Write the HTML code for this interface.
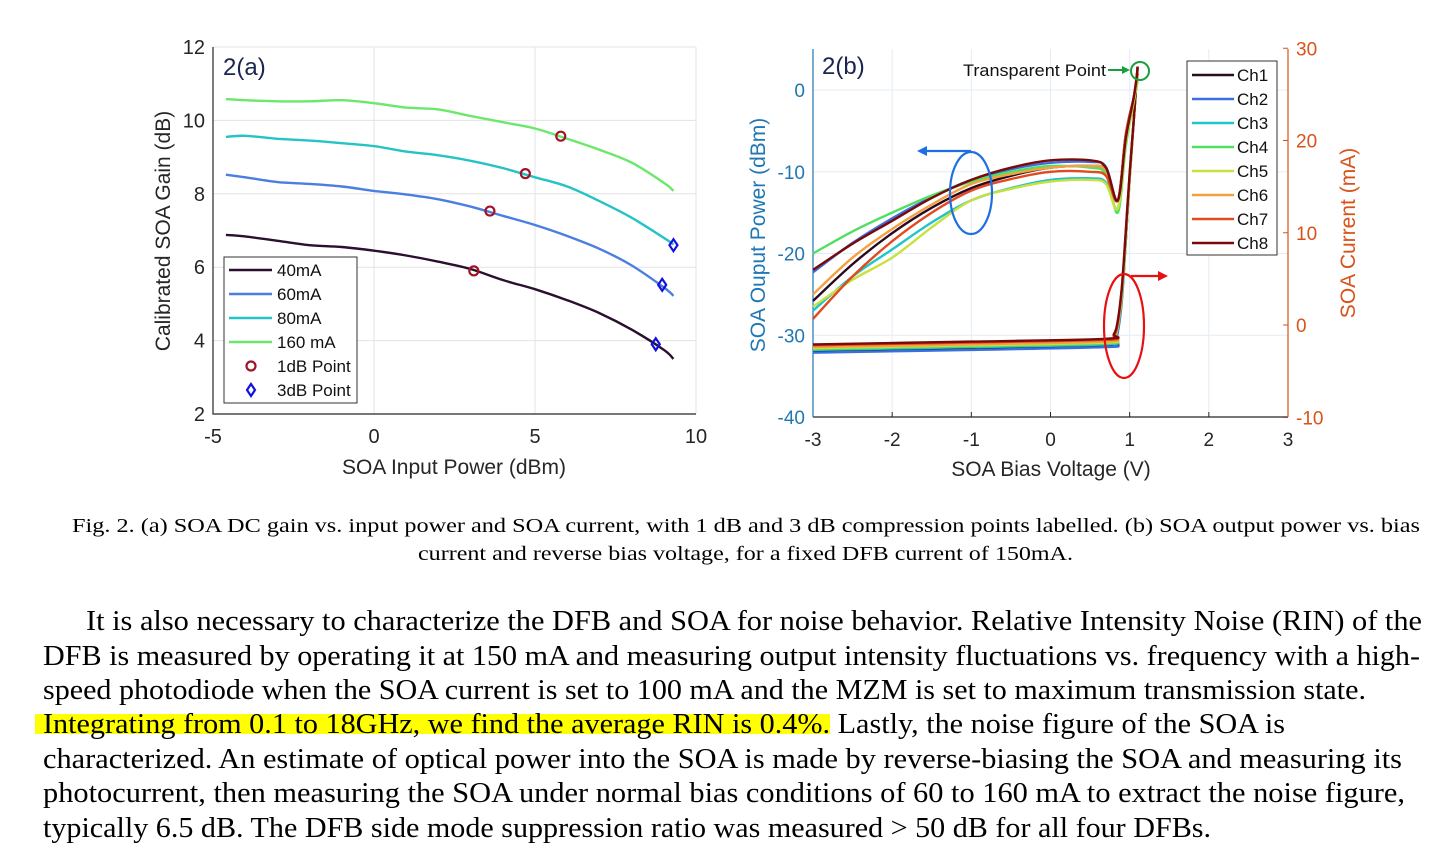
<!DOCTYPE html>
<html><head><meta charset="utf-8"><style>
body{margin:0;background:#fff;width:1456px;height:864px;overflow:hidden}
svg{position:absolute;left:0;top:0}
text{font-family:"Liberation Sans",sans-serif}
.serif{font-family:"Liberation Serif",serif}
</style></head><body>
<svg id="s" width="1456" height="864">
<g id="ga"></g>
<g id="gb"></g>
<g>
<text class="serif" x="72" y="532" font-size="20" textLength="1348" lengthAdjust="spacingAndGlyphs">Fig. 2. (a) SOA DC gain vs. input power and SOA current, with 1 dB and 3 dB compression points labelled.  (b) SOA output power vs. bias</text>
<text class="serif" x="418" y="560" font-size="20" textLength="655" lengthAdjust="spacingAndGlyphs">current and reverse bias voltage, for a fixed DFB current of 150mA.</text>
</g>
<rect x="35" y="714" width="795" height="20" fill="#ffff00"/>
<g font-size="28">
<text class="serif" x="86" y="630" textLength="1336" lengthAdjust="spacingAndGlyphs">It is also necessary to characterize the DFB and SOA for noise behavior.  Relative Intensity Noise (RIN) of the</text>
<text class="serif" x="43" y="665" textLength="1377" lengthAdjust="spacingAndGlyphs">DFB is measured by operating it at 150 mA and measuring output intensity fluctuations vs. frequency with a high-</text>
<text class="serif" x="43" y="699" textLength="1323" lengthAdjust="spacingAndGlyphs">speed photodiode when the SOA current is set to 100 mA and the MZM is set to maximum transmission state.</text>
<text class="serif" x="43" y="733" textLength="1242" lengthAdjust="spacingAndGlyphs">Integrating from 0.1 to 18GHz, we find the average RIN is 0.4%. Lastly, the noise figure of the SOA is</text>
<text class="serif" x="43" y="768" textLength="1359" lengthAdjust="spacingAndGlyphs">characterized.  An estimate of optical power into the SOA is made by reverse-biasing the SOA and measuring its</text>
<text class="serif" x="43" y="802" textLength="1362" lengthAdjust="spacingAndGlyphs">photocurrent, then measuring the SOA under normal bias conditions of 60 to 160 mA to extract the noise figure,</text>
<text class="serif" x="43" y="837" textLength="1168" lengthAdjust="spacingAndGlyphs">typically 6.5 dB. The DFB side mode suppression ratio was measured &gt; 50 dB for all four DFBs.</text>
</g>
</svg>
<script>
// ---- Chart A data ----
const aX = [-4.6,-4,-3,-2,-1,0,1,2,3,4,5,6,7,8,9,9.3];
const aNames = ['40mA','60mA','80mA','160 mA'];
const aColors = ['#2a0f2e','#4a7ee0','#25c3c6','#6be86b'];
const a40 = [6.88,6.84,6.72,6.6,6.55,6.45,6.32,6.15,5.95,5.65,5.4,5.1,4.75,4.3,3.75,3.5];
const a60 = [8.52,8.45,8.32,8.27,8.2,8.08,7.98,7.85,7.65,7.4,7.15,6.85,6.5,6.05,5.45,5.22];
const a80 = [9.55,9.58,9.5,9.45,9.38,9.3,9.15,9.05,8.9,8.7,8.45,8.2,7.8,7.35,6.8,6.62];
const a160 = [10.58,10.55,10.52,10.52,10.55,10.47,10.35,10.3,10.12,9.95,9.78,9.5,9.2,8.85,8.3,8.08];
const p1dbX = [3.1,3.6,4.7,5.8];
const p1dbY = [5.9,7.53,8.55,9.57];
const p3dbX = [8.75,8.95,9.3];
const p3dbY = [3.9,5.52,6.6];
const aXTicks = [-5,0,5,10];
const aYTicks = [2,4,6,8,10,12];
// ---- Chart B data ----
const bX = [-3,-2.5,-2,-1.5,-1,-0.5,0,0.5,0.7,0.85,0.95,1.05,1.1];
const bNames = ['Ch1','Ch2','Ch3','Ch4','Ch5','Ch6','Ch7','Ch8'];
const bColors = ['#2a0a1e','#3a6fe0','#22c4c8','#50e060','#c8e040','#f5a040','#e04a20','#7a0a0a'];
const pCh1 = [-25.8,-21.3,-17.5,-14.4,-12,-10.5,-9.5,-9.3,-9.8,-13.5,-5.5,-1,2];
const pCh2 = [-22.3,-18.7,-15.7,-13.1,-11,-9.7,-8.9,-8.8,-9.4,-13.5,-5.5,-1,2];
const pCh3 = [-27,-22.8,-19.5,-16.2,-13.5,-12,-11,-10.8,-11.3,-14.5,-6.5,-1.5,1.5];
const pCh4 = [-20,-17.3,-15,-12.9,-11.2,-10,-9.3,-9.5,-10.3,-15,-7,-1.5,1];
const pCh5 = [-26.5,-23.2,-20.5,-16.8,-13.5,-12.1,-11.2,-11,-11.5,-14.5,-6.5,-1.5,1.5];
const pCh6 = [-25,-20.5,-17,-14,-11.5,-10.3,-9.5,-9.3,-9.8,-13.5,-5.5,-1,2];
const pCh7 = [-28,-22.8,-18.5,-15,-12.3,-10.9,-10,-10,-10.5,-13.5,-5.5,-1,2];
const pCh8 = [-22,-18.8,-16,-13.2,-11,-9.5,-8.6,-8.6,-9.5,-13.5,-6,-1,2.5];
const cX = [-3,-1,0.7,0.8,0.85,0.9,0.95,1.0,1.05,1.1];
const cCh1 = [-2.9,-2.6,-2.3,-1.9,-0.5,3,9,16,22,28];
const cCh2 = [-3.0,-2.7,-2.4,-2.1,-0.8,2.5,9,16,22,28];
const cCh3 = [-2.7,-2.4,-2.1,-1.7,-0.3,3,9,16,22,28];
const cCh4 = [-2.6,-2.3,-2.0,-1.6,-0.2,3,9,16,22,28];
const cCh5 = [-2.5,-2.2,-1.9,-1.5,-0.1,3.5,9.5,16,22,28];
const cCh6 = [-2.4,-2.1,-1.8,-1.4,0,3.5,9.5,16,22,28];
const cCh7 = [-2.2,-1.9,-1.6,-1.2,0.2,4,10,16.5,22,28];
const cCh8 = [-2.1,-1.8,-1.5,-1.0,0.5,4,10,16.5,22,28];
const bXTicks = [-3,-2,-1,0,1,2,3];
const bYLTicks = [-40,-30,-20,-10,0];
const bYRTicks = [-10,0,10,20,30];

const NS='http://www.w3.org/2000/svg';
function mk(parent,tag,attrs,txt){const e=document.createElementNS(NS,tag);for(const k in attrs)e.setAttribute(k,attrs[k]);if(txt!==undefined)e.textContent=txt;parent.appendChild(e);return e;}
function pts(xs,ys,fx,fy){return xs.map((x,i)=>fx(x).toFixed(1)+','+fy(ys[i]).toFixed(1)).join(' ');}
function smooth(xs,ys,fx,fy){const P=xs.map((x,i)=>[fx(x),fy(ys[i])]);let d='M'+P[0][0].toFixed(1)+','+P[0][1].toFixed(1);
for(let i=0;i<P.length-1;i++){const p0=P[Math.max(0,i-1)],p1=P[i],p2=P[i+1],p3=P[Math.min(P.length-1,i+2)];
const c1=[p1[0]+(p2[0]-p0[0])/6,p1[1]+(p2[1]-p0[1])/6],c2=[p2[0]-(p3[0]-p1[0])/6,p2[1]-(p3[1]-p1[1])/6];
d+=`C${c1[0].toFixed(1)},${c1[1].toFixed(1)} ${c2[0].toFixed(1)},${c2[1].toFixed(1)} ${p2[0].toFixed(1)},${p2[1].toFixed(1)}`;}return d;}

// ===== Chart A =====
const ga=document.getElementById('ga');
const AL=213,AR=696,AT=47,AB=414;
const ax=v=>AL+(v+5)/15*(AR-AL), ay=v=>AB-(v-2)/10*(AB-AT);
aXTicks.forEach(t=>{let l=mk(ga,'line',{x1:ax(t),x2:ax(t),y1:AT,y2:AB,stroke:'#e3e3e3'});

let tx=mk(ga,'text',{x:ax(t),y:AB+29,'font-size':20,'text-anchor':'middle',fill:'#262626'},t);
});
aYTicks.forEach(t=>{let l=mk(ga,'line',{x1:AL,x2:AR,y1:ay(t),y2:ay(t),stroke:'#e3e3e3'});

let tx=mk(ga,'text',{x:AL-8,y:ay(t)+7,'font-size':20,'text-anchor':'end',fill:'#262626'},t);
});
let axA=mk(ga,'path',{d:`M${AL},${AT}V${AB}H${AR}`,fill:'none',stroke:'#262626','stroke-width':1.2});

[a40,a60,a80,a160].forEach((s,i)=>{let p=mk(ga,'path',{d:smooth(aX,s,ax,ay),fill:'none',stroke:aColors[i],'stroke-width':2.4});
});
p1dbX.forEach((x,i)=>{let c=mk(ga,'circle',{cx:ax(x),cy:ay(p1dbY[i]),r:4.5,fill:'none',stroke:'#a0142a','stroke-width':2.2});
});
p3dbX.forEach((x,i)=>{const X=ax(x),Y=ay(p3dbY[i]);let d=mk(ga,'path',{d:`M${X},${Y-6}L${X+4},${Y}L${X},${Y+6}L${X-4},${Y}Z`,fill:'none',stroke:'#1010e0','stroke-width':2.2});
});
let tA=mk(ga,'text',{x:223,y:75,'font-size':24,fill:'#1a2550'},'2(a)');
let xtA=mk(ga,'text',{x:454,y:474,'font-size':21,'text-anchor':'middle',fill:'#262626'},'SOA Input Power (dBm)');
let ytA=mk(ga,'text',{x:0,y:0,'font-size':21,'text-anchor':'middle',fill:'#262626',transform:'translate(170,231) rotate(-90)'},'Calibrated SOA Gain (dB)');
const lgA=mk(ga,'g',{});
mk(lgA,'rect',{x:224,y:257,width:133,height:146,fill:'#fff',stroke:'#333','stroke-width':1});
aNames.forEach((n,i)=>{const y=270+i*24;mk(lgA,'line',{x1:229,x2:272,y1:y,y2:y,stroke:aColors[i],'stroke-width':2.4});
let t=mk(lgA,'text',{x:277,y:y+6,'font-size':17,fill:'#111'},n);});
mk(lgA,'circle',{cx:251,cy:366,r:4.5,fill:'none',stroke:'#a0142a','stroke-width':2.2});
let t1=mk(lgA,'text',{x:277,y:372,'font-size':17,fill:'#111'},'1dB Point');
mk(lgA,'path',{d:'M251,384L255,390L251,396L247,390Z',fill:'none',stroke:'#1010e0','stroke-width':2.2});
let t3=mk(lgA,'text',{x:277,y:396,'font-size':17,fill:'#111'},'3dB Point');

// ===== Chart B =====
const gb=document.getElementById('gb');
const BL=813,BR=1288,BT=49,BB=417;
const bx=v=>BL+(v+3)/6*(BR-BL), byl=v=>90-8.175*v, byr=v=>325-9.225*v;
const LC='#1f77b4', RC='#d95319';
bXTicks.forEach(t=>{let l=mk(gb,'line',{x1:bx(t),x2:bx(t),y1:BT,y2:BB,stroke:'#e3ecf4'});

mk(gb,'line',{x1:bx(t),x2:bx(t),y1:BB,y2:BB-5,stroke:'#262626'});
let tx=mk(gb,'text',{x:bx(t),y:BB+29,'font-size':19,'text-anchor':'middle',fill:'#262626'},t);
});
bYLTicks.forEach(t=>{let l=mk(gb,'line',{x1:BL,x2:BR,y1:byl(t),y2:byl(t),stroke:'#e3ecf4'});

let tx=mk(gb,'text',{x:BL-8,y:byl(t)+7,'font-size':19,'text-anchor':'end',fill:LC},t);
});
bYRTicks.forEach(t=>{mk(gb,'line',{x1:BR,x2:BR-5,y1:byr(t),y2:byr(t),stroke:RC});
let tx=mk(gb,'text',{x:BR+8,y:byr(t)+7,'font-size':19,fill:RC},t);
});
mk(gb,'line',{x1:BL,x2:BR,y1:BB,y2:BB,stroke:'#262626','stroke-width':1.2});
mk(gb,'line',{x1:BL,x2:BL,y1:BT,y2:BB,stroke:LC,'stroke-width':1.2});
mk(gb,'line',{x1:BR,x2:BR,y1:BT,y2:BB,stroke:RC,'stroke-width':1.2});
[cCh1,cCh2,cCh3,cCh4,cCh5,cCh6,cCh7,cCh8].forEach((s,i)=>{let p=mk(gb,'path',{d:smooth(cX,s,bx,byr),fill:'none',stroke:bColors[i],'stroke-width':2.4});
});
[pCh1,pCh2,pCh3,pCh4,pCh5,pCh6,pCh7,pCh8].forEach((s,i)=>{let p=mk(gb,'path',{d:smooth(bX,s,bx,byl),fill:'none',stroke:bColors[i],'stroke-width':2.4});
});
let tB=mk(gb,'text',{x:822,y:74,'font-size':24,fill:'#1a2550'},'2(b)');
let xtB=mk(gb,'text',{x:1051,y:476,'font-size':21,'text-anchor':'middle',fill:'#262626'},'SOA Bias Voltage (V)');
let ylB=mk(gb,'text',{x:0,y:0,'font-size':21,'text-anchor':'middle',fill:LC,transform:'translate(765,235) rotate(-90)'},'SOA Ouput Power (dBm)');
let yrB=mk(gb,'text',{x:0,y:0,'font-size':21,'text-anchor':'middle',fill:RC,transform:'translate(1355,233) rotate(-90)'},'SOA Current (mA)');
const an=mk(gb,'g',{});
mk(an,'ellipse',{cx:971,cy:193,rx:21,ry:41,fill:'none',stroke:'#1f6fe0','stroke-width':2.2});
mk(an,'line',{x1:971,x2:925,y1:151,y2:151,stroke:'#1f6fe0','stroke-width':2.2});
mk(an,'path',{d:'M917,151L927,146L927,156Z',fill:'#1f6fe0'});
mk(an,'ellipse',{cx:1124,cy:326,rx:20,ry:52,fill:'none',stroke:'#e81010','stroke-width':2.2});
mk(an,'line',{x1:1131,x2:1160,y1:276,y2:276,stroke:'#e81010','stroke-width':2.2});
mk(an,'path',{d:'M1168,276L1158,271L1158,281Z',fill:'#e81010'});
mk(an,'circle',{cx:1140,cy:71,r:9,fill:'none',stroke:'#18a040','stroke-width':2});
mk(an,'line',{x1:1108,x2:1124,y1:70,y2:70,stroke:'#18a040','stroke-width':2});
mk(an,'path',{d:'M1130,70L1122,66L1122,74Z',fill:'#18a040'});
let tp=mk(an,'text',{x:963,y:76,'font-size':17,fill:'#111',textLength:143,lengthAdjust:'spacingAndGlyphs'},'Transparent Point');
const lgB=mk(gb,'g',{});
mk(lgB,'rect',{x:1187,y:61,width:90,height:194,fill:'#fff',stroke:'#333','stroke-width':1});
bNames.forEach((n,i)=>{const y=75+i*24;mk(lgB,'line',{x1:1192,x2:1234,y1:y,y2:y,stroke:bColors[i],'stroke-width':2.4});
let t=mk(lgB,'text',{x:1237,y:y+6,'font-size':17,fill:'#111'},n);});
</script>
</body></html>
